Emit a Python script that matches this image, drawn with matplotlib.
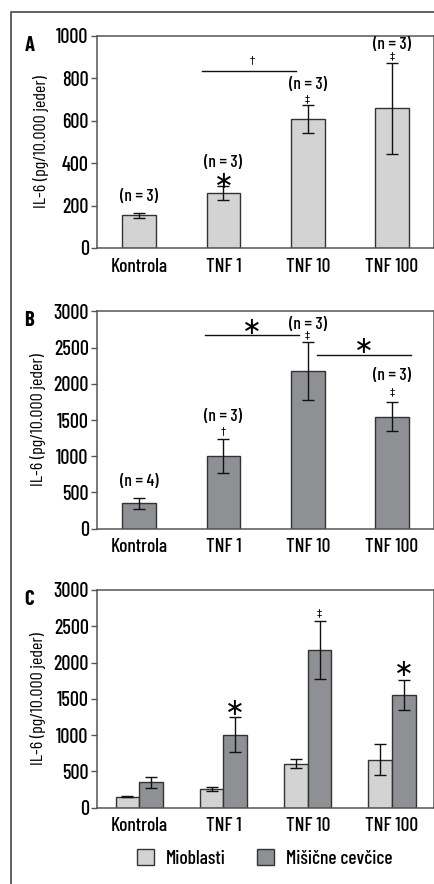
import numpy as np
import matplotlib
matplotlib.use("Agg")
import matplotlib.pyplot as plt
from matplotlib.lines import Line2D
from matplotlib.patches import Patch

plt.rcParams['font.family'] = ['Barlow Condensed', 'DejaVu Sans']
plt.rcParams['font.weight'] = 'medium'

categories = ["Kontrola", "TNF 1", "TNF 10", "TNF 100"]

# Mioblasti (panel A)
mio_mean = [154, 258, 607, 659]
mio_err = [11, 33, 66, 215]
mio_n = ["(n = 3)", "(n = 3)", "(n = 3)", "(n = 3)"]

# Misicne cevcice (panel B)
mis_mean = [350, 1005, 2178, 1548]
mis_err = [80, 240, 400, 205]
mis_n = ["(n = 4)", "(n = 3)", "(n = 3)", "(n = 3)"]

LIGHT = "#d3d3d3"
DARK = "#8f9094"
EDGE = "#333333"
SPINE = "#555555"

fig = plt.figure(figsize=(4.35, 8.84), dpi=100)

# outer frame of the figure
fig.add_artist(Line2D([0.0253, 0.0253, 1.0], [0.0, 0.9864, 0.9864],
                      transform=fig.transFigure, color=SPINE, lw=1.3))

axA = fig.add_axes([0.223, 0.7195, 0.775, 0.2398])
axB = fig.add_axes([0.223, 0.4019, 0.775, 0.2459])
axC = fig.add_axes([0.223, 0.0863, 0.775, 0.2463])

x = np.arange(len(categories))


def style(ax, ymax, step, letter):
    ax.set_xlim(-0.5, 3.5)
    ax.set_ylim(0, ymax)
    ax.set_yticks(np.arange(0, ymax + 1, step))
    ax.set_xticks(x)
    ax.set_xticklabels(categories, fontsize=14)
    ax.tick_params(axis="x", length=0, pad=7)
    ax.tick_params(axis="y", length=4, width=1, color=SPINE, labelsize=14.5, pad=2)
    for s in ax.spines.values():
        s.set_color(SPINE)
        s.set_linewidth(1.1)
    ax.set_ylabel("IL-6 (pg/10.000 jeder)", fontsize=13, labelpad=5)
    ax.text(-0.215, 1.0, letter, transform=ax.transAxes, fontsize=15,
            fontweight="bold", va="top", ha="left")


def ast(ax, xx, yy, size=17):
    ax.text(xx, yy, "\u2217", ha="center", va="center", fontsize=size,
            family="DejaVu Sans", fontweight="normal")


def mark(ax, xx, yy, s):
    ax.text(xx, yy, s, ha="center", va="center", fontsize=7.5,
            family="DejaVu Sans", fontweight="normal")


ekw = dict(ecolor="#111111", elinewidth=1.0, capsize=4, capthick=1.0)

# Panel A
axA.bar(x, mio_mean, width=0.4, color=LIGHT, edgecolor=EDGE, linewidth=1.0,
        yerr=mio_err, error_kw=ekw, zorder=2)
style(axA, 1000, 200, "A")
n_y_A = [242, 402, 772, 960]
for i, t in enumerate(mio_n):
    axA.text(x[i], n_y_A[i], t, ha="center", va="center", fontsize=12.5)
ast(axA, 1, 318)
mark(axA, 2, 700, "\u2021")
mark(axA, 3, 905, "\u2021")
axA.plot([0.75, 1.86], [835, 835], color="#111111", lw=1.0)
mark(axA, 1.34, 885, "\u2020")

# Panel B
axB.bar(x, mis_mean, width=0.4, color=DARK, edgecolor=EDGE, linewidth=1.0,
        yerr=mis_err, error_kw=ekw, zorder=2)
style(axB, 3000, 500, "B")
n_y_B = [650, 1545, 2820, 2120]
for i, t in enumerate(mis_n):
    axB.text(x[i], n_y_B[i], t, ha="center", va="center", fontsize=12.5)
mark(axB, 1, 1345, "\u2020")
mark(axB, 2, 2665, "\u2021")
mark(axB, 3, 1890, "\u2021")
axB.plot([0.78, 1.90], [2673, 2673], color="#111111", lw=1.0)
ast(axB, 1.34, 2790)
axB.plot([2.11, 3.23], [2397, 2397], color="#111111", lw=1.0)
ast(axB, 2.67, 2515)

# Panel C
w = 0.28
ekwC = dict(ecolor="#111111", elinewidth=1.0, capsize=4.5, capthick=1.0)
axC.bar(x - w / 2, mio_mean, width=w, color=LIGHT, edgecolor=EDGE,
        linewidth=1.0, yerr=mio_err, error_kw=ekwC, zorder=2)
axC.bar(x + w / 2, mis_mean, width=w, color=DARK, edgecolor=EDGE,
        linewidth=1.0, yerr=mis_err, error_kw=ekwC, zorder=2)
style(axC, 3000, 500, "C")
ast(axC, 1 + w / 2, 1380)
ast(axC, 3 + w / 2, 1910)
mark(axC, 2 + w / 2, 2680, "\u2021")

handles = [Patch(facecolor=LIGHT, edgecolor=EDGE, label="Mioblasti"),
           Patch(facecolor=DARK, edgecolor=EDGE, label="Mišične cevčice")]
fig.legend(handles=handles, loc="center", bbox_to_anchor=(0.608, 0.029),
           ncol=2, frameon=False, fontsize=14, handlelength=0.9,
           handleheight=0.9, columnspacing=1.6, handletextpad=0.6)

fig.savefig("out.png", dpi=100)
